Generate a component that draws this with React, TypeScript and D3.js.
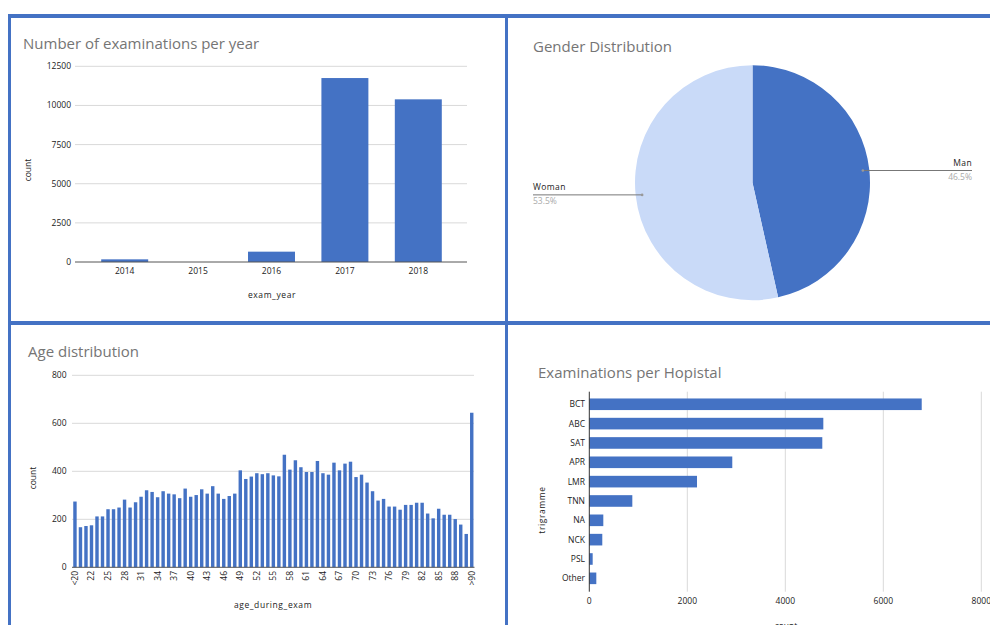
import React from "react";
import * as d3 from "d3";

const years = ["2014", "2015", "2016", "2017", "2018"];
const yearCounts = [170, 0, 660, 11750, 10390];
const yearTicks = [0, 2500, 5000, 7500, 10000, 12500];

const genders = ["Man", "Woman"];
const genderShares = [46.5, 53.5];

const ageLabels = ["<20", ...d3.range(20, 91).map(String), ">90"];
const ageCounts = [
  274, 167, 172, 175, 212, 212, 242, 242, 249, 282,
  249, 271, 294, 321, 314, 292, 317, 307, 304, 288,
  328, 294, 301, 325, 307, 338, 307, 285, 297, 307,
  404, 368, 378, 392, 388, 392, 383, 379, 469, 407,
  446, 417, 397, 397, 443, 392, 386, 436, 404, 432,
  440, 376, 386, 353, 317, 278, 285, 253, 253, 240,
  260, 260, 269, 269, 224, 204, 244, 219, 219, 201,
  178, 139, 644,
];
const ageTicks = [0, 200, 400, 600, 800];

const hospitals = ["BCT", "ABC", "SAT", "APR", "LMR", "TNN", "NA", "NCK", "PSL", "Other"];
const hospitalCounts = [6784, 4776, 4755, 2918, 2198, 878, 286, 265, 69, 143];
const hospitalTicks = [0, 2000, 4000, 6000, 8000];

const BLUE = "#4472c4";
const LIGHT = "#c9daf8";
const GRID = "#d9d9d9";
const TITLE = "#757575";
const TXT = "#222";
const FONT = "'Open Sans', sans-serif";

const YearChart = () => {
  const x = d3.scaleBand().domain(years).range([88, 455]).paddingInner(0.36).paddingOuter(0.18);
  const y = d3.scaleLinear().domain([0, 12500]).range([262, 66.3]);
  return (
    <g>
      <text x={23} y={49} fontSize={15} fill={TITLE}>Number of examinations per year</text>
      {yearTicks.map((t) => (
        <g key={t}>
          {t > 0 && <line x1={75} x2={467} y1={y(t)} y2={y(t)} stroke={GRID} />}
          <text x={71} y={y(t) + 3} fontSize={8.5} textAnchor="end" fill={TXT}>{t}</text>
        </g>
      ))}
      {years.map((yr, i) => (
        <rect key={yr} x={x(yr)} width={x.bandwidth()} y={y(yearCounts[i])}
          height={262 - y(yearCounts[i])} fill={BLUE} />
      ))}
      <line x1={75} x2={467} y1={262} y2={262} stroke="#555" />
      {years.map((yr) => (
        <text key={yr} x={(x(yr) || 0) + x.bandwidth() / 2} y={274} fontSize={8.5}
          textAnchor="middle" fill={TXT}>{yr}</text>
      ))}
      <text x={272} y={298} fontSize={8.5} textAnchor="middle" fill={TXT} letterSpacing={0.6}>exam_year</text>
      <text transform="translate(31,170) rotate(-90)" fontSize={8.5} textAnchor="middle" fill={TXT}>count</text>
    </g>
  );
};

const GenderChart = () => {
  const cx = 752.5, cy = 182.7, r = 117.5;
  const pie = d3.pie<number>().sort(null).value((d) => d)(genderShares);
  const arc = d3.arc<d3.PieArcDatum<number>>().innerRadius(0).outerRadius(r);
  return (
    <g>
      <text x={533} y={52} fontSize={15} fill={TITLE}>Gender Distribution</text>
      <g transform={`translate(${cx},${cy})`}>
        {pie.map((p, i) => (
          <path key={genders[i]} d={arc(p) || ""} fill={i === 0 ? BLUE : LIGHT} />
        ))}
      </g>
      {pie.map((p, i) => {
        const a = (p.startAngle + p.endAngle) / 2;
        const px = cx + Math.sin(a) * r * 0.945;
        const py = cy - Math.cos(a) * r * 0.945;
        const right = i === 0;
        const ex = right ? 972 : 533;
        return (
          <g key={genders[i]}>
            <line x1={px} y1={py} x2={ex} y2={py} stroke="#777" />
            <circle cx={px} cy={py} r={1.3} fill="#999" />
            <text x={ex} y={py - 5} fontSize={8.5} textAnchor={right ? "end" : "start"} fill={TXT} letterSpacing={0.4}>{genders[i]}</text>
            <text x={ex} y={py + 9} fontSize={8.5} textAnchor={right ? "end" : "start"} fill="#aaa">{genderShares[i].toFixed(1)}%</text>
          </g>
        );
      })}
    </g>
  );
};

const AgeChart = () => {
  const x = d3.scaleBand().domain(ageLabels).range([72.2, 474.5]).paddingInner(0.38).paddingOuter(0.19);
  const y = d3.scaleLinear().domain([0, 800]).range([567.3, 375.3]);
  return (
    <g>
      <text x={28} y={357} fontSize={15} fill={TITLE}>Age distribution</text>
      {ageTicks.map((t) => (
        <g key={t}>
          {t > 0 && <line x1={72} x2={474} y1={y(t)} y2={y(t)} stroke={GRID} />}
          <text x={66.5} y={y(t) + 3} fontSize={8.5} textAnchor="end" fill={TXT}>{t}</text>
        </g>
      ))}
      {ageLabels.map((a, i) => (
        <rect key={a} x={x(a)} width={x.bandwidth()} y={y(ageCounts[i])}
          height={567.3 - y(ageCounts[i])} fill={BLUE} />
      ))}
      <line x1={72} x2={474.5} y1={567.3} y2={567.3} stroke="#555" />
      {ageLabels.filter((_, i) => i % 3 === 0).map((a) => (
        <text key={a} transform={`translate(${(x(a) || 0) + x.bandwidth() / 2 + 3},571) rotate(-90)`}
          fontSize={8.5} textAnchor="end" fill={TXT}>{a}</text>
      ))}
      <text x={273} y={608} fontSize={8.5} textAnchor="middle" fill={TXT} letterSpacing={0.6}>age_during_exam</text>
      <text transform="translate(36,478) rotate(-90)" fontSize={8.5} textAnchor="middle" fill={TXT}>count</text>
    </g>
  );
};

const HospitalChart = () => {
  const x = d3.scaleLinear().domain([0, 8000]).range([589.3, 981.3]);
  const y = d3.scaleBand().domain(hospitals).range([394.6, 588]).paddingInner(0.4).paddingOuter(0.2);
  return (
    <g>
      <text x={538} y={378} fontSize={15} fill={TITLE}>Examinations per Hopistal</text>
      {hospitalTicks.map((t) => (
        <g key={t}>
          {t > 0 && <line x1={x(t)} x2={x(t)} y1={391.7} y2={591.7} stroke={GRID} />}
          <text x={x(t)} y={604} fontSize={8.5} textAnchor="middle" fill={TXT}>{t}</text>
        </g>
      ))}
      {hospitals.map((h, i) => (
        <rect key={h} x={589.3} y={y(h)} height={y.bandwidth()} width={x(hospitalCounts[i]) - 589.3} fill={BLUE} />
      ))}
      <line x1={589.3} x2={589.3} y1={391.7} y2={591.7} stroke="#333" />
      {hospitals.map((h) => (
        <text key={h} x={585} y={(y(h) || 0) + y.bandwidth() / 2 + 3} fontSize={8.5} textAnchor="end" fill={TXT}>{h}</text>
      ))}
      <text transform="translate(545,510) rotate(-90)" fontSize={8.5} textAnchor="middle" fill={TXT} letterSpacing={0.6}>trigramme</text>
      <text x={786} y={629} fontSize={8.5} textAnchor="middle" fill={TXT}>count</text>
    </g>
  );
};

export default function App() {
  return (
    <svg width={990} height={625} style={{ position: "absolute", left: 0, top: 0, background: "#fff" }}
      fontFamily={FONT}>
      <rect width={990} height={625} fill="#fff" />
      <YearChart />
      <GenderChart />
      <AgeChart />
      <HospitalChart />
      <g fill={BLUE}>
        <rect x={8} y={14} width={982} height={4} />
        <rect x={8} y={14} width={3} height={611} />
        <rect x={505} y={14} width={3} height={611} />
        <rect x={8} y={321} width={982} height={4} />
      </g>
    </svg>
  );
}
